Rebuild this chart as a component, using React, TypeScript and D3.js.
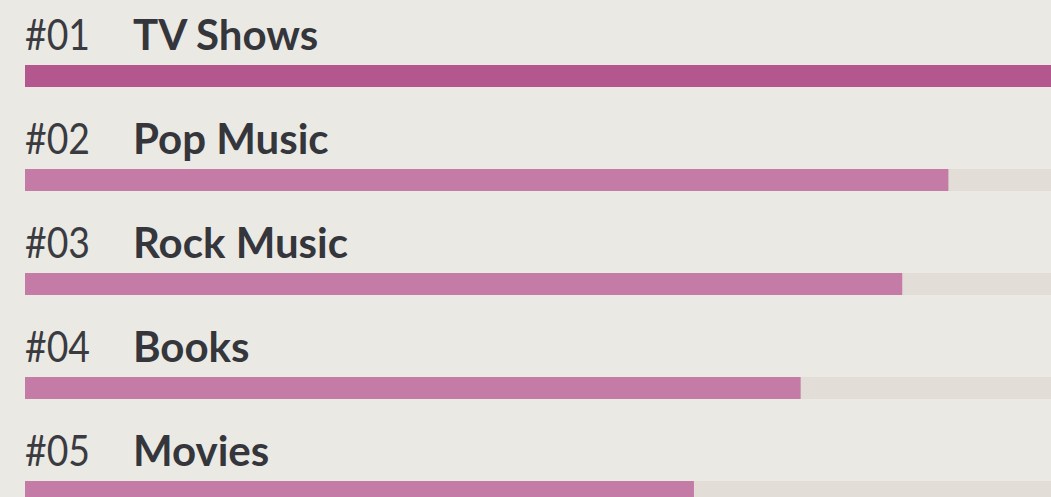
import * as d3 from "d3";
import { useEffect, useRef } from "react";

const ranks = ["#01", "#02", "#03", "#04", "#05"];
const categories = ["TV Shows", "Pop Music", "Rock Music", "Books", "Movies"];
const values = [100, 90, 85.5, 75.6, 65.2];

const W = 1051;
const H = 497;

const App = () => {
  const ref = useRef(null);

  useEffect(() => {
    const svg = d3.select(ref.current);
    svg.selectAll("*").remove();

    const margin = { left: 25, right: 0, top: 0 };
    const rowH = 104;

    const x = d3.scaleLinear().domain([0, 100]).range([margin.left, W - margin.right]);
    const y = d3.scaleLinear().domain([0, 1]).range([0, rowH]);

    svg.append("rect").attr("width", W).attr("height", H).attr("fill", "#ebe9e4");

    const rows = svg.selectAll("g.row")
      .data(categories)
      .enter()
      .append("g")
      .attr("class", "row")
      .attr("transform", (d, i) => `translate(0, ${y(i)})`);

    // track
    rows.append("rect")
      .attr("x", x(0))
      .attr("y", 65)
      .attr("width", x(100) - x(0))
      .attr("height", 22)
      .attr("fill", "#e2ddd6");

    rows.append("rect")
      .attr("x", x(0))
      .attr("y", 65)
      .attr("width", (d, i) => x(values[i]) - x(0))
      .attr("height", 22)
      .attr("fill", (d, i) => i === 0 ? "#b5578f" : "#c47ba6");

    rows.append("text")
      .attr("x", 25)
      .attr("y", 50)
      .attr("font-family", "Lato, sans-serif")
      .attr("font-weight", 400)
      .attr("font-size", 42)
      .attr("textLength", 65)
      .attr("lengthAdjust", "spacingAndGlyphs")
      .attr("fill", "#3a3b40")
      .text((d, i) => ranks[i]);

    rows.append("text")
      .attr("x", 133)
      .attr("y", 50)
      .attr("font-family", "Lato, sans-serif")
      .attr("font-weight", 700)
      .attr("font-size", 42)
      .attr("fill", "#35363b")
      .text(d => d);
  }, []);

  return (
    <svg ref={ref} width={W} height={H} style={{ position: "absolute", left: 0, top: 0 }}></svg>
  );
};

export default App;
